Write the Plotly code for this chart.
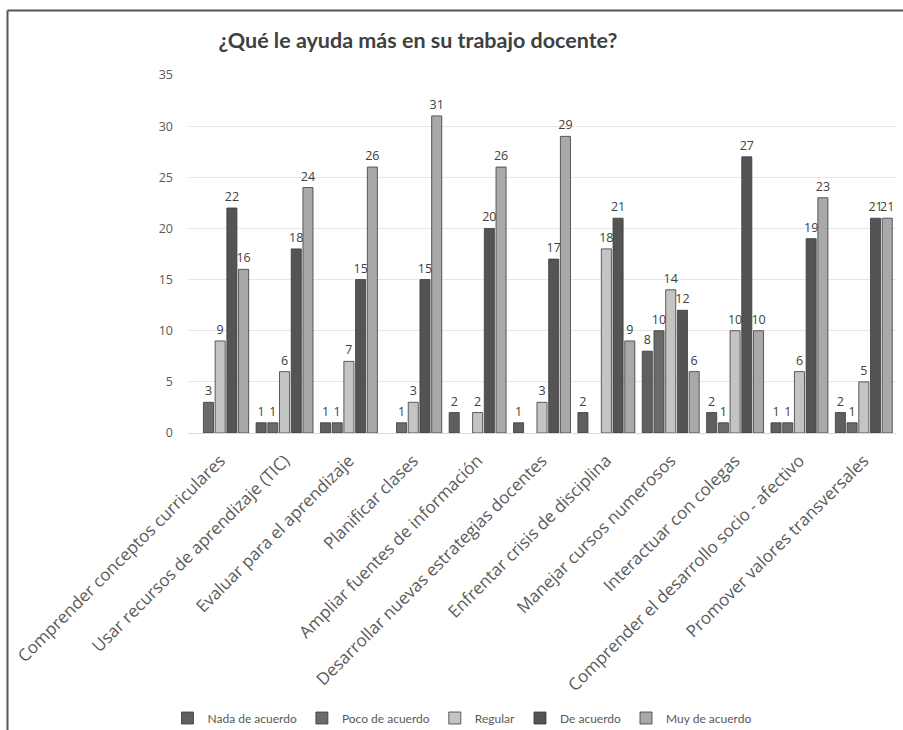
import plotly.graph_objects as go

categories = [
    "Comprender conceptos curriculares",
    "Usar recursos de aprendizaje (TIC)",
    "Evaluar para el aprendizaje",
    "Planificar clases",
    "Ampliar fuentes de información",
    "Desarrollar nuevas estrategias docentes",
    "Enfrentar crisis de disciplina",
    "Manejar cursos numerosos",
    "Interactuar con colegas",
    "Comprender el desarrollo socio - afectivo",
    "Promover valores transversales",
]

series_names = ["Nada de acuerdo", "Poco de acuerdo", "Regular", "De acuerdo", "Muy de acuerdo"]

nada = [None, 1, 1, None, 2, 1, 2, 8, 2, 1, 2]
poco = [3, 1, 1, 1, None, None, None, 10, 1, 1, 1]
regular = [9, 6, 7, 3, 2, 3, 18, 14, 10, 6, 5]
de_acuerdo = [22, 18, 15, 15, 20, 17, 21, 12, 27, 19, 21]
muy = [16, 24, 26, 31, 26, 29, 9, 6, 10, 23, 21]

series_values = [nada, poco, regular, de_acuerdo, muy]
colors = ["#5f5f5f", "#6b6b6b", "#c4c4c4", "#545454", "#a9a9a9"]

y_ticks = [0, 5, 10, 15, 20, 25, 30, 35]

W, H = 903, 730
L, R, T, B = 188, 7, 75, 297
pw = W - L - R
ph = H - T - B

def px2x(px):
    return (px - L) / pw

def px2y(py):
    return (H - B - py) / ph

fig = go.Figure()
for name, vals, col in zip(series_names, series_values, colors):
    fig.add_trace(go.Bar(
        x=categories, y=vals, name=name,
        marker=dict(color=col, line=dict(color="#3a3a3a", width=0.8)),
        text=[("" if v is None else str(v)) for v in vals],
        textposition="outside",
        textfont=dict(family="Open Sans, sans-serif", size=12.5, color="#404040"),
        constraintext="none",
        cliponaxis=False,
    ))

fig.update_layout(
    width=W, height=H,
    margin=dict(l=L, r=R, t=T, b=B, autoexpand=False),
    paper_bgcolor="white", plot_bgcolor="white",
    barmode="group", bargap=0.09, bargroupgap=0.14,
    font=dict(family="Open Sans, sans-serif", color="#595959"),
    title=dict(
        text="¿Qué le ayuda más en su trabajo docente?",
        x=418 / W, xanchor="center", y=1 - 40 / H, yanchor="middle",
        font=dict(family="Lato, Open Sans, sans-serif", size=21.5, color="#404040", weight="bold"),
    ),
    xaxis=dict(
        tickangle=-45, tickfont=dict(family="Open Sans, sans-serif", size=17, color="#5a5a5a"),
        showline=True, linecolor="#d9d9d9", linewidth=1,
        ticks="outside", ticklen=10, tickcolor="rgba(0,0,0,0)", showgrid=False,
    ),
    yaxis=dict(
        range=[0, 35], tickvals=y_ticks, ticktext=[str(v) for v in y_ticks],
        tickfont=dict(family="Open Sans, sans-serif", size=12.5, color="#595959"),
        showgrid=True, gridcolor="#e6e6e6", gridwidth=1,
        zeroline=False, ticks="", ticklabelstandoff=14,
    ),
    legend=dict(
        orientation="h", x=px2x(462), xanchor="center", y=px2y(718), yanchor="middle",
        font=dict(family="Lato, Open Sans, sans-serif", size=12, color="#595959"),
        itemwidth=30, tracegroupgap=0,
    ),
    shapes=[
        dict(type="line", xref="paper", yref="paper",
             x0=px2x(7.5), x1=px2x(905), y0=px2y(10.5), y1=px2y(10.5),
             line=dict(color="#555555", width=2)),
        dict(type="line", xref="paper", yref="paper",
             x0=px2x(7.5), x1=px2x(7.5), y0=px2y(10.5), y1=px2y(735),
             line=dict(color="#555555", width=2)),
    ],
)

fig.write_html("out.html")
